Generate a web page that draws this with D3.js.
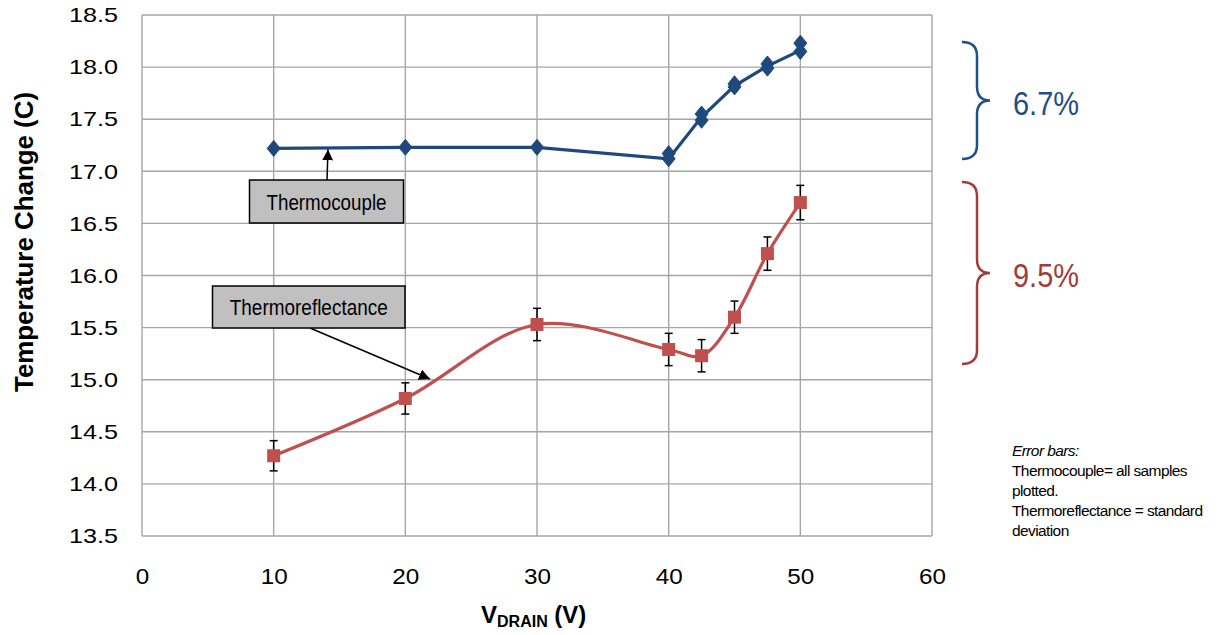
<!DOCTYPE html>
<html><head><meta charset="utf-8">
<script src="https://cdn.jsdelivr.net/npm/d3@7"></script>
<style>body{margin:0;background:#fff}svg{display:block;font-family:"Liberation Sans",Arial,sans-serif}</style>
</head><body><svg id="c" width="1222" height="635"></svg>
<script>
// ---- data ----
const xTicks = [0,10,20,30,40,50,60];
const yTicks = [13.5,14.0,14.5,15.0,15.5,16.0,16.5,17.0,17.5,18.0,18.5];
const tcX = [10,20,30,40,42.5,45,47.5,50];
const tcY = [17.22,17.23,17.23,17.12,17.52,17.82,18.01,18.16];
const tcSampleX = [10,20,30,40,40,42.5,42.5,45,45,47.5,47.5,50,50];
const tcSampleY = [17.22,17.23,17.23,17.17,17.12,17.55,17.49,17.84,17.81,18.03,17.99,18.23,18.15];
const trX = [10,20,30,40,42.5,45,47.5,50];
const trY = [14.27,14.82,15.53,15.29,15.23,15.60,16.21,16.70];
const trErr = [0.145,0.15,0.155,0.155,0.155,0.155,0.16,0.165];
const noteLines = ["Thermocouple= all samples","plotted.","Thermoreflectance = standard","deviation"];

const svg = d3.select("#c");
const x = d3.scaleLinear().domain([0,60]).range([142,932]);
const y = d3.scaleLinear().domain([13.5,18.5]).range([536,15]);
const grid = "#a6a6a6";

// grid
svg.append("g").selectAll("line").data(yTicks).join("line")
  .attr("x1",x(0)).attr("x2",x(60)).attr("y1",d=>y(d)).attr("y2",d=>y(d))
  .attr("stroke",grid).attr("stroke-width",1.4);
svg.append("g").selectAll("line").data(xTicks).join("line")
  .attr("y1",y(13.5)).attr("y2",y(18.5)).attr("x1",d=>x(d)).attr("x2",d=>x(d))
  .attr("stroke",grid).attr("stroke-width",1.4);

// axes labels via d3 axes
const ya = svg.append("g").attr("transform",`translate(${x(0)},0)`)
  .call(d3.axisLeft(y).tickValues(yTicks).tickFormat(d3.format(".1f")).tickSize(0).tickPadding(24));
ya.select(".domain").remove();
ya.selectAll("text").attr("font-size",21).attr("fill","#000").attr("font-family","Liberation Sans, Arial")
  .attr("textLength",49).attr("lengthAdjust","spacingAndGlyphs");
const xa = svg.append("g").attr("transform",`translate(0,${y(13.5)})`)
  .call(d3.axisBottom(x).tickValues(xTicks).tickFormat(d3.format("d")).tickSize(0).tickPadding(0));
xa.select(".domain").remove();
xa.selectAll("text").attr("font-size",22).attr("fill","#000").attr("font-family","Liberation Sans, Arial")
  .attr("dy",0).attr("y",48).attr("textLength",d=>String(d).length*13.5).attr("lengthAdjust","spacingAndGlyphs");

// axis titles
svg.append("text").attr("transform","translate(33,242) rotate(-90)").attr("text-anchor","middle")
  .attr("font-weight","bold").attr("font-size",25).attr("textLength",300).attr("lengthAdjust","spacingAndGlyphs")
  .text("Temperature Change (C)");
const xt = svg.append("text").attr("x",481).attr("y",623).attr("font-weight","bold");
xt.append("tspan").attr("font-size",24).text("V");
xt.append("tspan").attr("font-size",16).attr("dy",4).text("DRAIN");
xt.append("tspan").attr("font-size",24).attr("dy",-4).text(" (V)");

// thermoreflectance
const red = "#c0504d";
const trData = trX.map((d,i)=>({x:d,y:trY[i],e:trErr[i]}));
svg.append("path").datum(trData)
  .attr("d",d3.line().x(d=>x(d.x)).y(d=>y(d.y)).curve(d3.curveCatmullRom.alpha(0.5)))
  .attr("fill","none").attr("stroke",red).attr("stroke-width",3.2);
const eb = svg.append("g").attr("stroke","#000").attr("stroke-width",1.5);
trData.forEach(d=>{
  eb.append("line").attr("x1",x(d.x)).attr("x2",x(d.x)).attr("y1",y(d.y+d.e)).attr("y2",y(d.y-d.e));
  [d.y+d.e,d.y-d.e].forEach(v=>eb.append("line").attr("x1",x(d.x)-4).attr("x2",x(d.x)+4).attr("y1",y(v)).attr("y2",y(v)));
});
svg.append("g").selectAll("rect").data(trData).join("rect")
  .attr("x",d=>x(d.x)-6.5).attr("y",d=>y(d.y)-6.5).attr("width",13).attr("height",13).attr("fill",red);

// thermocouple
const blue = "#1f497d";
svg.append("path").datum(tcX.map((d,i)=>[d,tcY[i]]))
  .attr("d",d3.line().x(d=>x(d[0])).y(d=>y(d[1])))
  .attr("fill","none").attr("stroke",blue).attr("stroke-width",3.2);
svg.append("g").selectAll("path").data(tcSampleX.map((d,i)=>[d,tcSampleY[i]])).join("path")
  .attr("d",d=>`M${x(d[0])},${y(d[1])-8}L${x(d[0])+6.5},${y(d[1])}L${x(d[0])},${y(d[1])+8}L${x(d[0])-6.5},${y(d[1])}Z`)
  .attr("fill",blue).attr("stroke",blue).attr("stroke-width",1).attr("stroke-linejoin","round");

// annotation boxes with arrows
const defs = svg.append("defs");
defs.append("marker").attr("id","ah").attr("viewBox","0 0 10 10").attr("refX",10).attr("refY",5)
  .attr("markerWidth",11).attr("markerHeight",11).attr("markerUnits","userSpaceOnUse").attr("orient","auto")
  .append("path").attr("d","M0,0L10,5L0,10Z").attr("fill","#000");
function box(x0,y0,w,h,label,tl){
  svg.append("rect").attr("x",x0).attr("y",y0).attr("width",w).attr("height",h)
    .attr("fill","#c0c0c0").attr("stroke","#000").attr("stroke-width",1.5);
  svg.append("text").attr("x",x0+w/2).attr("y",y0+h/2+8).attr("text-anchor","middle")
    .attr("font-size",22).attr("textLength",tl).attr("lengthAdjust","spacingAndGlyphs").text(label);
}
svg.append("line").attr("x1",327).attr("y1",180).attr("x2",328).attr("y2",y(17.22)+1)
  .attr("stroke","#000").attr("stroke-width",1.5).attr("marker-end","url(#ah)");
svg.append("line").attr("x1",310).attr("y1",328).attr("x2",430).attr("y2",379)
  .attr("stroke","#000").attr("stroke-width",1.5).attr("marker-end","url(#ah)");
box(249.5,180,154,43,"Thermocouple",120);
box(212.5,286,192.5,42,"Thermoreflectance",158);

// braces
function brace(top,bot,col){
  const mid=(top+bot)/2, xl=962, xv=977, xt=990, r=14;
  const p=`M${xl},${top}Q${xv},${top} ${xv},${top+r}L${xv},${mid-r}Q${xv},${mid} ${xt},${mid}Q${xv},${mid} ${xv},${mid+r}L${xv},${bot-r}Q${xv},${bot} ${xl},${bot}`;
  svg.append("path").attr("d",p).attr("fill","none").attr("stroke",col).attr("stroke-width",2.5);
}
brace(42,159,"#1f4e89");
brace(182,364,"#a33b3b");
svg.append("text").attr("x",1013).attr("y",115).attr("font-size",33).attr("fill","#1f4e89")
  .attr("textLength",66).attr("lengthAdjust","spacingAndGlyphs").text("6.7%");
svg.append("text").attr("x",1013).attr("y",287).attr("font-size",33).attr("fill","#a33b3b")
  .attr("textLength",66).attr("lengthAdjust","spacingAndGlyphs").text("9.5%");

// note
const note = svg.append("g").attr("font-size",15.5).attr("letter-spacing",-0.6);
note.append("text").attr("x",1012).attr("y",456).attr("font-style","italic").text("Error bars:");
note.selectAll("text.l").data(noteLines).join("text").attr("class","l")
  .attr("x",1012).attr("y",(d,i)=>476+i*20).text(d=>d);
</script></body></html>
